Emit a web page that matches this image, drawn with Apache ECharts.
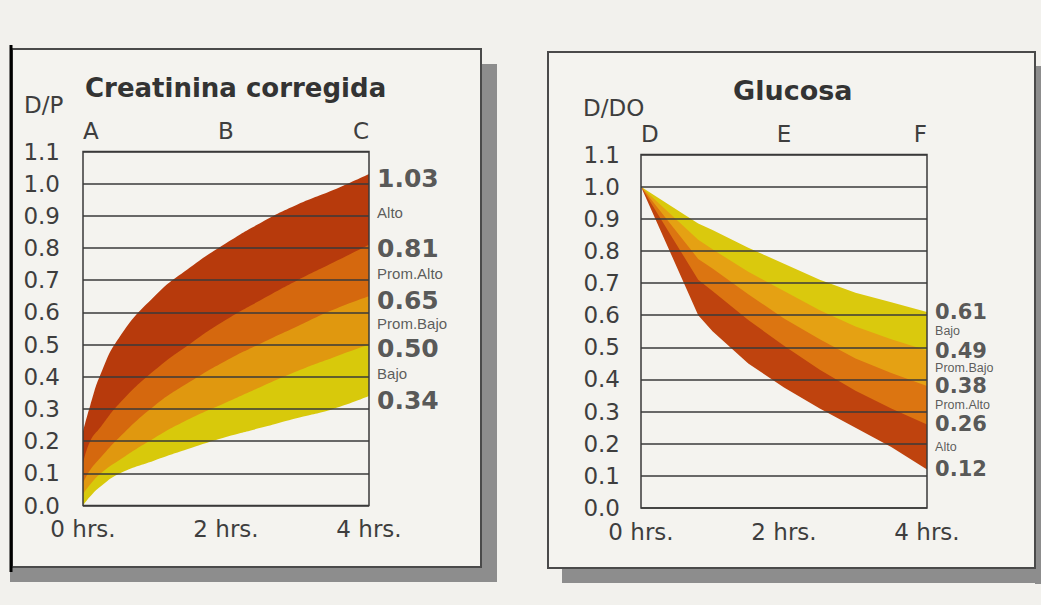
<!DOCTYPE html>
<html><head><meta charset="utf-8">
<script src="https://cdn.jsdelivr.net/npm/echarts@6/dist/echarts.min.js"></script>
<style>html,body{margin:0;padding:0;background:#f2f1ed;}#c{width:1041px;height:605px;}</style>
</head><body><div id="c"></div>
<script>
// ---------- data ----------
const xBottomLabels = ['0 hrs.', '2 hrs.', '4 hrs.'];
const creatTopLabels = ['A', 'B', 'C'];
const glucTopLabels = ['D', 'E', 'F'];

// Creatinina corregida (D/P) boundaries, bottom to top
const creatHours   = [0, 0.1, 0.25, 0.5, 1, 1.5, 2, 2.5, 3, 3.5, 4];
const creatLine034 = [0, 0.028, 0.06, 0.098, 0.14, 0.178, 0.213, 0.242, 0.272, 0.30, 0.34];
const creatLine050 = [0.035, 0.065, 0.10, 0.14, 0.21, 0.27, 0.32, 0.37, 0.418, 0.46, 0.50];
const creatLine065 = [0.07, 0.11, 0.15, 0.21, 0.31, 0.385, 0.45, 0.505, 0.557, 0.608, 0.65];
const creatLine081 = [0.13, 0.20, 0.245, 0.315, 0.42, 0.503, 0.577, 0.64, 0.70, 0.755, 0.81];
const creatLine103 = [0.23, 0.31, 0.41, 0.52, 0.65, 0.74, 0.815, 0.88, 0.935, 0.98, 1.03];
const creatBandNames = ['Alto', 'Prom.Alto', 'Prom.Bajo', 'Bajo']; // top to bottom

// Glucosa (D/DO) boundaries, bottom to top
const glucHours   = [0, 0.8, 1, 1.5, 2, 2.5, 3, 3.5, 4];
const glucLine012 = [1.0, 0.60, 0.55, 0.45, 0.375, 0.31, 0.25, 0.19, 0.12];
const glucLine026 = [1.0, 0.71, 0.675, 0.585, 0.505, 0.43, 0.365, 0.31, 0.26];
const glucLine038 = [1.0, 0.775, 0.745, 0.665, 0.59, 0.525, 0.465, 0.42, 0.38];
const glucLine049 = [1.0, 0.835, 0.805, 0.735, 0.675, 0.615, 0.565, 0.525, 0.49];
const glucLine061 = [1.0, 0.885, 0.865, 0.81, 0.76, 0.71, 0.67, 0.64, 0.61];
const glucBandNames = ['Bajo', 'Prom.Bajo', 'Prom.Alto', 'Alto']; // top to bottom

// ---------- styles ----------
const PAPER = '#f4f3ef';
const creatFills = [PAPER, '#d8c90b', '#e0980f', '#d5680e', '#b73a0c'];
const glucFills  = [PAPER, '#bf430e', '#dc7511', '#e5a113', '#dac90d'];
const FONT = 'DejaVu Sans';
const TXT = '#3e3e3e';
const GRIDLINE = '#3a3a3a';

function bandSeries(idx, hours, lines, fills, smooth) {
  const out = [];
  for (let i = lines.length - 1; i >= 0; i--) {
    out.push({
      type: 'line', xAxisIndex: idx * 2, yAxisIndex: idx,
      data: hours.map((h, j) => [h, lines[i][j]]),
      smooth: smooth, showSymbol: false, symbol: 'none',
      lineStyle: { width: 0, opacity: 0 },
      areaStyle: { color: fills[i], opacity: 1, origin: 'start' },
      silent: true, z: 2
    });
  }
  return out;
}
function labelSeries(idx, lines, names, st) {
  const ends = lines.map(l => l[l.length - 1]).reverse();
  const layout = st.shift ? { moveOverlap: 'shiftY' } : undefined;
  return [{
    type: 'scatter', xAxisIndex: idx * 2, yAxisIndex: idx, symbolSize: 0.1,
    itemStyle: { color: 'rgba(0,0,0,0)' }, silent: true, z: 6, labelLayout: layout,
    data: ends.map(v => [4, v, v.toFixed(2)]),
    label: { show: true, position: 'right', distance: 8, offset: [0, st.valOffset], lineHeight: st.valLH,
      formatter: p => p.data[2], fontFamily: FONT, fontWeight: 'bold', fontSize: st.valSize, color: '#2e2e2e' }
  }, {
    type: 'scatter', xAxisIndex: idx * 2, yAxisIndex: idx, symbolSize: 0.1,
    itemStyle: { color: 'rgba(0,0,0,0)' }, silent: true, z: 6, labelLayout: layout,
    data: names.map((n, i) => [4, (ends[i] + ends[i + 1]) / 2, n]),
    label: { show: true, position: 'right', distance: 8, offset: [0, st.nameOffset], lineHeight: st.nameLH,
      formatter: p => p.data[2], fontFamily: 'Liberation Sans', fontSize: st.nameSize, color: '#333' }
  }];
}

const grids = [
  { left: 83, top: 151.5, width: 286, height: 354 },
  { left: 641, top: 154.5, width: 286, height: 353.5 }
];
const topLabels = [creatTopLabels, glucTopLabels];

const chart = echarts.init(document.getElementById('c'), null, { renderer: 'svg' });
const option = {
  backgroundColor: '#f2f1ed',
  animation: false,
  title: [
    { text: 'Creatinina corregida', left: 85, top: 75, padding: 0,
      textStyle: { fontFamily: FONT, fontWeight: 'bold', fontSize: 26, color: '#333' } },
    { text: 'Glucosa', left: 733, top: 77, padding: 0,
      textStyle: { fontFamily: FONT, fontWeight: 'bold', fontSize: 27, color: '#333' } }
  ],
  graphic: [
    { type: 'rect', z: -10, shape: { x: 482, y: 64, width: 15, height: 518 }, style: { fill: '#8d8d8d' } },
    { type: 'rect', z: -10, shape: { x: 10, y: 567, width: 487, height: 15 }, style: { fill: '#8d8d8d' } },
    { type: 'rect', z: -10, shape: { x: 1035, y: 66, width: 6, height: 518 }, style: { fill: '#8d8d8d' } },
    { type: 'rect', z: -10, shape: { x: 562, y: 568, width: 479, height: 15 }, style: { fill: '#8d8d8d' } },
    { type: 'rect', z: -9, shape: { x: 12, y: 49, width: 469, height: 518 }, style: { fill: PAPER, stroke: '#4a4a4a', lineWidth: 2 } },
    { type: 'rect', z: -9, shape: { x: 548, y: 52, width: 487, height: 516 }, style: { fill: PAPER, stroke: '#4a4a4a', lineWidth: 2 } },
    { type: 'line', z: -8, shape: { x1: 11, y1: 45, x2: 11, y2: 572 }, style: { stroke: '#000', lineWidth: 3 } },
    { type: 'text', z: 5, left: 24, top: 93, style: { text: 'D/P', fontFamily: FONT, fontSize: 23, fill: TXT } },
    { type: 'text', z: 5, left: 583, top: 96, style: { text: 'D/DO', fontFamily: FONT, fontSize: 23, fill: TXT } }
  ],
  grid: grids.map(g => Object.assign({ show: true, z: 3, borderColor: GRIDLINE, borderWidth: 1.5, backgroundColor: 'rgba(0,0,0,0)' }, g)),
  xAxis: [0, 1].flatMap(i => [
    { gridIndex: i, type: 'value', min: 0, max: 4, interval: 2, position: 'bottom',
      axisLine: { show: false }, axisTick: { show: false }, splitLine: { show: false },
      axisLabel: { margin: 12, fontFamily: FONT, fontSize: 23, color: TXT, formatter: v => xBottomLabels[v / 2] } },
    { gridIndex: i, type: 'value', min: 0, max: 4, interval: 2, position: 'top',
      axisLine: { show: false }, axisTick: { show: false }, splitLine: { show: false },
      axisLabel: { margin: 9, fontFamily: FONT, fontSize: 23, color: TXT, alignMinLabel: 'left', alignMaxLabel: 'right',
        formatter: v => topLabels[i][v / 2] } }
  ]),
  yAxis: [0, 1].map(i => ({
    gridIndex: i, type: 'value', min: 0, max: 1.1, interval: 0.1, z: 3,
    axisLine: { show: false }, axisTick: { show: false },
    splitLine: { show: true, lineStyle: { color: GRIDLINE, width: 1.6 } },
    axisLabel: { margin: i === 0 ? 23 : 21, fontFamily: FONT, fontSize: 23, color: TXT, formatter: v => v.toFixed(1) }
  })),
  series: [].concat(
    bandSeries(0, creatHours, [creatLine034, creatLine050, creatLine065, creatLine081, creatLine103], creatFills, 0.5),
    bandSeries(1, glucHours, [glucLine012, glucLine026, glucLine038, glucLine049, glucLine061], glucFills, false),
    labelSeries(0, [creatLine034, creatLine050, creatLine065, creatLine081, creatLine103], creatBandNames,
      { valSize: 25, valLH: 18, valOffset: 4, nameSize: 15, nameLH: 12, nameOffset: 3, shift: false }),
    labelSeries(1, [glucLine012, glucLine026, glucLine038, glucLine049, glucLine061], glucBandNames,
      { valSize: 21, valLH: 25, valOffset: 3, nameSize: 12.5, nameLH: 15, nameOffset: 3, shift: true })
  )
};
chart.setOption(option);
</script>
</body></html>
